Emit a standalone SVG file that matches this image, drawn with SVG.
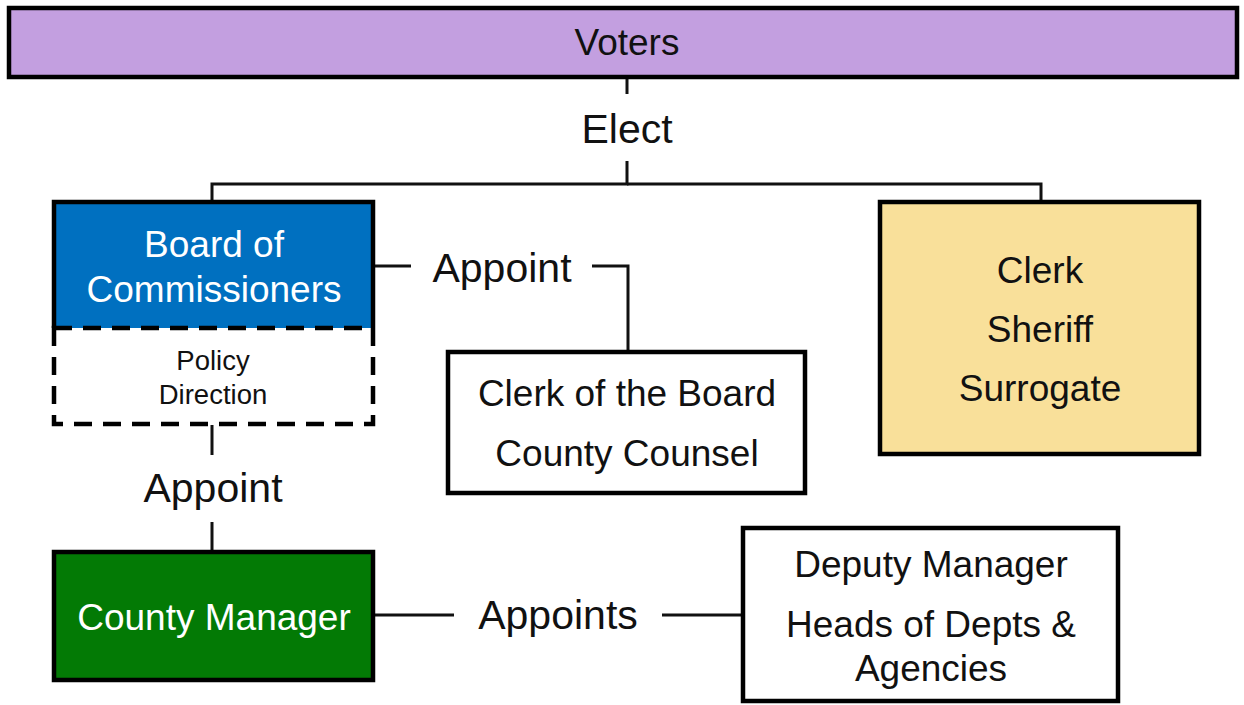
<svg xmlns="http://www.w3.org/2000/svg" width="1244" height="705" viewBox="0 0 1244 705">
<style>
text{font-family:"Liberation Sans",Arial,sans-serif;text-anchor:middle;fill:#111}
.box{stroke:#000;stroke-width:4.5}
.lbl{font-size:41px}
.t{font-size:37px}
.w{fill:#fff}
.conn{fill:none;stroke:#111;stroke-width:3}
</style>
<rect width="1244" height="705" fill="#fff"/>
<g id="connectors">
<path class="conn" d="M627 78V94"/>
<path class="conn" d="M627 161V184H212V200"/>
<path class="conn" d="M627 184H1041V201"/>
<path class="conn" d="M375 266H411"/>
<path class="conn" d="M592 266H628V352"/>
<path class="conn" d="M212 425V455"/>
<path class="conn" d="M212 522V551"/>
<path class="conn" d="M375 615H454"/>
<path class="conn" d="M662 615H741"/>
<text class="lbl" x="627" y="143">Elect</text>
<text class="lbl" x="502" y="282">Appoint</text>
<text class="lbl" x="213" y="502">Appoint</text>
<text class="lbl" x="558" y="629">Appoints</text>
</g>
<g id="voters">
<rect class="box" x="9" y="8" width="1228" height="69" fill="#c39fe0"/>
<text class="t" x="627" y="55">Voters</text>
</g>
<g id="board">
<rect x="52" y="200" width="323" height="128" fill="#0070c0"/>
<path d="M54 328V202H373V328" fill="none" stroke="#000" stroke-width="4.5"/>
<text class="t w" x="214" y="257">Board of</text>
<text class="t w" x="214" y="302">Commissioners</text>
</g>
<g id="policy">
<rect x="54" y="328" width="319" height="96" fill="none" stroke="#000" stroke-width="4.5" stroke-dasharray="18 11"/>
<text x="213" y="370" font-size="27.5">Policy</text>
<text x="213" y="404" font-size="27.5">Direction</text>
</g>
<g id="clerk-board">
<rect class="box" x="448" y="352" width="357" height="141" fill="#fff"/>
<text class="t" x="627" y="406">Clerk of the Board</text>
<text class="t" x="627" y="466">County Counsel</text>
</g>
<g id="elected">
<rect class="box" x="880" y="202" width="319" height="252" fill="#f9e09a"/>
<text class="t" x="1040" y="283">Clerk</text>
<text class="t" x="1040" y="342">Sheriff</text>
<text class="t" x="1040" y="401">Surrogate</text>
</g>
<g id="manager">
<rect class="box" x="54" y="552" width="319" height="128" fill="#037a05"/>
<text class="t w" x="214" y="630">County Manager</text>
</g>
<g id="deputy">
<rect class="box" x="743" y="528" width="375" height="173" fill="#fff"/>
<text class="t" x="931" y="577">Deputy Manager</text>
<text class="t" x="931" y="637">Heads of Depts &amp;</text>
<text class="t" x="931" y="681">Agencies</text>
</g>
</svg>
